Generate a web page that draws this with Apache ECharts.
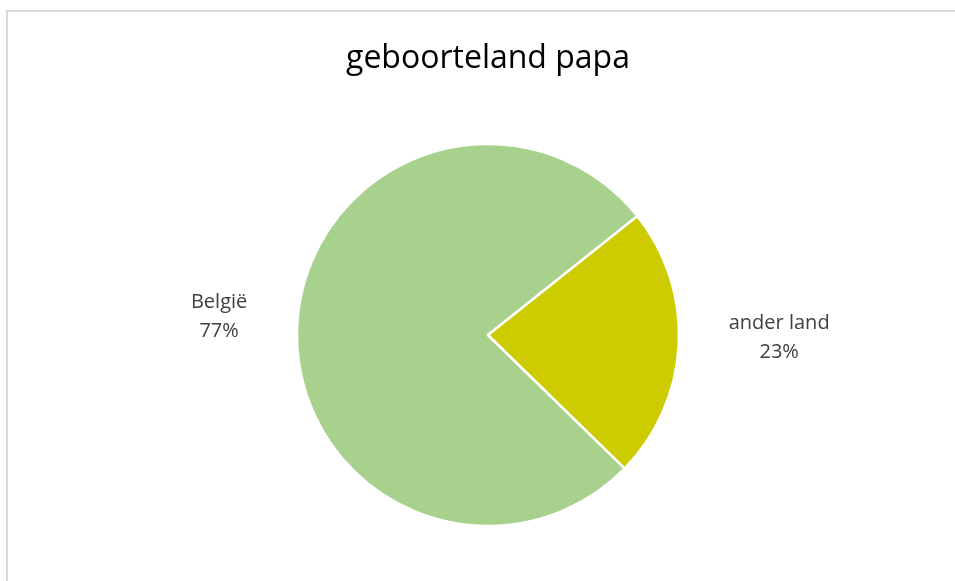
<!DOCTYPE html>
<html>
<head>
<meta charset="utf-8">
<script src="https://cdn.jsdelivr.net/npm/echarts@6/dist/echarts.min.js"></script>
<style>
  html, body { margin: 0; padding: 0; background: #fff; }
  #frame { position: absolute; left: 6px; top: 10px; width: 949px; height: 571px;
           border-top: 2px solid #d9d9d9; border-left: 2px solid #d9d9d9; box-sizing: border-box; }
  #chart { position: absolute; left: 0; top: 0; width: 955px; height: 581px; }
</style>
</head>
<body>
<div id="chart"></div>
<div id="frame"></div>
<script>
const title = 'geboorteland papa';
const categories = ['België', 'ander land'];
const values = [77, 23];
const colors = ['#A9D18E', '#CCCC00'];

const chart = echarts.init(document.getElementById('chart'), null, { renderer: 'canvas' });
chart.setOption({
  backgroundColor: '#ffffff',
  animation: false,
  title: {
    text: title,
    left: 341,
    top: 38,
    textStyle: { fontFamily: 'Open Sans', fontSize: 32, fontWeight: 'normal', color: '#000000' }
  },
  series: [{
    type: 'pie',
    center: [488, 335],
    radius: 191,
    startAngle: 315.7,
    clockwise: true,
    avoidLabelOverlap: false,
    itemStyle: { borderColor: '#ffffff', borderWidth: 2.5 },
    label: {
      show: true,
      position: 'outside',
      fontFamily: 'Open Sans',
      fontSize: 20,
      color: '#404040',
      lineHeight: 29,
      padding: [0, 0, 15, 0],
      formatter: function (p) { return '{c|' + p.name + '}\n{c|' + Math.round(p.percent) + '%}'; },
      rich: { c: { align: 'center', fontFamily: 'Open Sans', fontSize: 20, color: '#404040', lineHeight: 29 } }
    },
    labelLine: { show: false, length: 15, length2: 30 },
    data: categories.map((c, i) => ({ name: c, value: values[i], itemStyle: { color: colors[i] } }))
  }]
});
</script>
</body>
</html>
